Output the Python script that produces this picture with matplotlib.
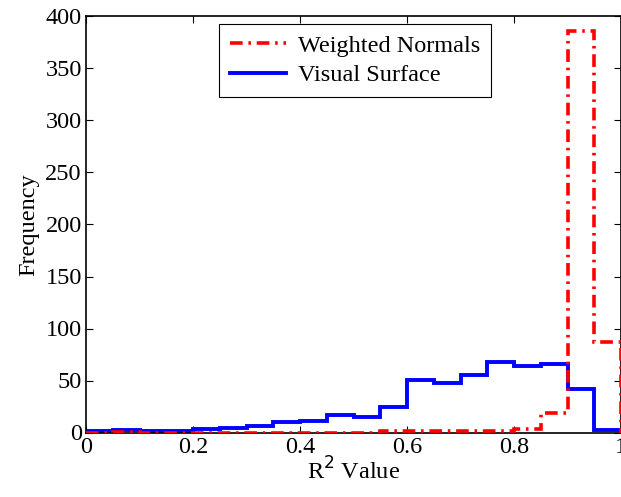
import numpy as np
import matplotlib
matplotlib.use('Agg')
import matplotlib.pyplot as plt

# Histogram bin edges (width 0.05) and counts
bin_edges = np.round(np.arange(0, 1.0001, 0.05), 2)
visual_surface = [1, 2, 1, 1, 3, 4.5, 6, 10, 11, 16.5, 15, 24.5, 50.5, 47.5, 55.5, 67.5, 63.5, 65.5, 42, 2.5]
weighted_normals = [0, 0.5, 0, 0, 0, 0, 0, 0, 0, 0, 0, 1, 1, 1, 1, 1, 3.5, 19, 386, 87]

plt.rcParams['font.family'] = ['Liberation Serif', 'DejaVu Serif']
fs = 17.5

fig = plt.figure(figsize=(6.21, 4.97), dpi=100)
ax = fig.add_axes([86 / 621, 1 - 432.5 / 497, 1 - 86 / 621, (432.5 - 16.5) / 497])

ax.stairs(weighted_normals, bin_edges, color='red', linewidth=2.6, linestyle=(0, (3.5, 1.6, 0.7, 1.6)),
          label='Weighted Normals', zorder=3)
ax.stairs(visual_surface, bin_edges, color='blue', linewidth=2.8, linestyle='-',
          label='Visual Surface', zorder=2)

ax.set_xlim(0, 1)
ax.set_ylim(0, 400)
ax.set_xticks(np.arange(0, 1.01, 0.2))
ax.set_xticklabels(['0', '0.2', '0.4', '0.6', '0.8', '1'])
ax.set_yticks(np.arange(0, 401, 50))
ax.tick_params(direction='in', top=True, right=True, labelsize=fs, length=5, width=0.8, pad=3)
for sp in ax.spines.values():
    sp.set_linewidth(1.2)

ax.set_xlabel(r'R$^2$ Value', fontsize=fs, labelpad=0)
ax.set_ylabel('Frequency', fontsize=fs, labelpad=4)

leg = ax.legend(loc='upper center', bbox_to_anchor=(0.503, 0.982), fontsize=fs, frameon=True,
                fancybox=False, edgecolor='black', framealpha=1, handlelength=2.3,
                borderpad=0.45, labelspacing=0.3, handletextpad=0.5, borderaxespad=0)
leg.get_frame().set_linewidth(0.8)

fig.savefig('out.png', dpi=100)
